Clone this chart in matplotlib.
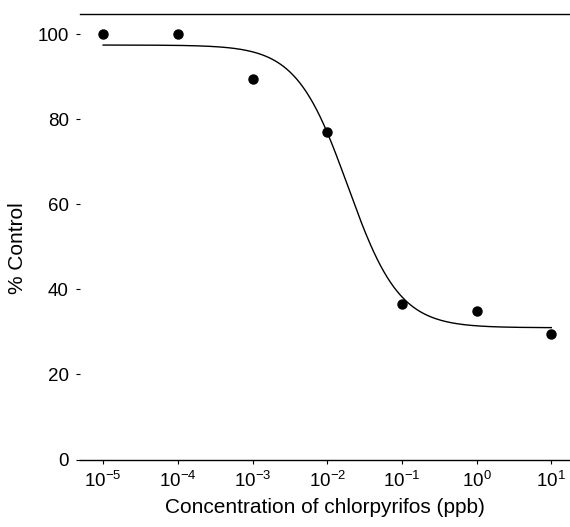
import numpy as np
import matplotlib
matplotlib.use("Agg")
import matplotlib.pyplot as plt

plt.rcParams['font.family'] = ['Liberation Sans', 'DejaVu Sans']
plt.rcParams['mathtext.fontset'] = 'custom'
plt.rcParams['mathtext.rm'] = 'Liberation Sans'
plt.rcParams['mathtext.it'] = 'Liberation Sans'

# Data
conc = [1e-5, 1e-4, 1e-3, 1e-2, 1e-1, 1e0, 1e1]
pct_control = [100, 100, 89.5, 77, 36.5, 35, 29.5]
x_ticks = [1e-5, 1e-4, 1e-3, 1e-2, 1e-1, 1e0, 1e1]
x_ticklabels = [r'$10^{-5}$', r'$10^{-4}$', r'$10^{-3}$', r'$10^{-2}$',
                r'$10^{-1}$', r'$10^{0}$', r'$10^{1}$']
y_ticks = [0, 20, 40, 60, 80, 100]

# Fitted 4-parameter logistic curve parameters
fit_top = 97.5
fit_bottom = 31.0
fit_ec50 = 0.0189
fit_hill = 1.26

fig = plt.figure(figsize=(5.70, 5.27), dpi=100)
ax = fig.add_axes([80/570, 67.5/527, 490/570, 445.5/527])

xf = np.logspace(-5, 1, 400)
yf = fit_bottom + (fit_top - fit_bottom) / (1 + (xf / fit_ec50) ** fit_hill)
ax.plot(xf, yf, color='black', lw=1.0)
ax.plot(conc, pct_control, 'o', color='black', ms=6.5)

ax.set_xscale('log')
ax.set_xlim(10**-5.31, 10**1.25)
ax.set_ylim(0, 104.8)
ax.set_xticks(x_ticks)
ax.set_xticklabels(x_ticklabels)
ax.minorticks_off()
ax.set_yticks(y_ticks)

for s in ['right', 'left']:
    ax.spines[s].set_visible(False)
ax.spines['top'].set_linewidth(1.0)
ax.spines['bottom'].set_linewidth(1.0)
ax.tick_params(axis='both', labelsize=13.5, length=3, width=0.8, direction='out', pad=5)

ax.set_xlabel('Concentration of chlorpyrifos (ppb)', fontsize=15, labelpad=5)
ax.set_ylabel('% Control', fontsize=15)
ax.yaxis.set_label_coords(-0.108, 0.475)

fig.savefig('out.png', dpi=100)
